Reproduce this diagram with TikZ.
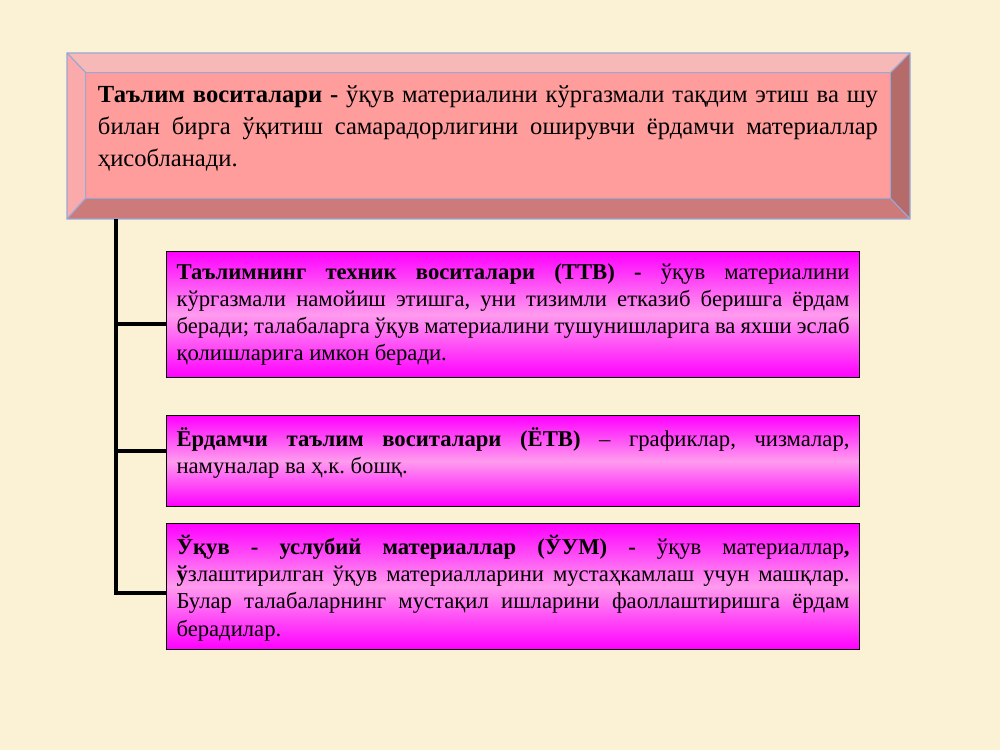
\documentclass[tikz,border=0pt]{standalone}
\usepackage{fontspec}
\setmainfont{Liberation Serif}
\usetikzlibrary{calc}

\definecolor{paper}{RGB}{251,242,213}
\definecolor{face}{RGB}{255,156,156}
\definecolor{bevtop}{RGB}{247,184,184}
\definecolor{bevleft}{RGB}{250,170,170}
\definecolor{bevright}{RGB}{182,107,107}
\definecolor{bevbottom}{RGB}{205,122,122}
\definecolor{rim}{RGB}{154,168,212}
\definecolor{magedge}{RGB}{255,0,255}
\definecolor{magmid}{RGB}{255,155,238}

\frenchspacing
\newcommand\deftext[1]{\parbox[c][19.8mm][t]{156mm}{\fontsize{14}{18.2}\selectfont #1}}
\newcommand\kindtext[2]{\parbox[c][#1][t]{134.6mm}{\fontsize{12.9}{15.4}\selectfont #2}}

\begin{document}
\begin{tikzpicture}[x=0.2mm,y=0.2mm,
    kind/.style={draw=black,line width=0.6pt,top color=magedge,bottom color=magedge,
      middle color=magmid,minimum width=138.6mm,inner xsep=2mm,inner ysep=2.4mm,
      anchor=north west},
    bevel/.style={draw=rim,line width=0.6pt,line join=round},
    trunk/.style={line width=2.3pt}]
  \fill[paper] (0,0) rectangle (1000,750);

  % definition box
  \node (def) at (488,614.5) [fill=face,minimum width=160.8mm,minimum height=25mm,
    inner xsep=0pt,inner ysep=2.6mm]
    {\deftext{\textbf{Таълим воситалари -} ўқув материалини кўргазмали тақдим этиш ва шу\linebreak
     билан бирга ўқитиш самарадорлигини оширувчи ёрдамчи материаллар\linebreak
     ҳисобланади.}};
  \coordinate (onw) at (67,697);
  \coordinate (one) at (910,697);
  \coordinate (ose) at (910,531);
  \coordinate (osw) at (67,531);
  \filldraw[bevel,fill=bevtop] (onw) -- (one) -- (def.north east) -- (def.north west) -- cycle;
  \filldraw[bevel,fill=bevleft] (onw) -- (def.north west) -- (def.south west) -- (osw) -- cycle;
  \filldraw[bevel,fill=bevright] (one) -- (ose) -- (def.south east) -- (def.north east) -- cycle;
  \filldraw[bevel,fill=bevbottom] (osw) -- (ose) -- (def.south east) -- (def.south west) -- cycle;

  % three kinds
  \node (ttv) at (166,499) [kind]
    {\kindtext{20.4mm}{\textbf{Таълимнинг техник воситалари (ТТВ) -} ўқув материалини\linebreak
     кўргазмали намойиш этишга, уни тизимли етказиб беришга ёрдам\linebreak
     беради; талабаларга ўқув материалини тушунишларига ва яхши эслаб\linebreak
     қолишларига имкон беради.}};
  \node (etv) at (166,335) [kind]
    {\kindtext{13.4mm}{\textbf{Ёрдамчи таълим воситалари (ЁТВ)} – графиклар, чизмалар,\linebreak
     намуналар ва ҳ.к. бошқ.}};
  \node (uum) at (166,227) [kind]
    {\kindtext{20.4mm}{\textbf{Ўқув - услубий материаллар (ЎУМ) -} ўқув материаллар\textbf{,}\linebreak
     \textbf{ў}злаштирилган ўқув материалларини мустаҳкамлаш учун машқлар.\linebreak
     Булар талабаларнинг мустақил ишларини фаоллаштиришга ёрдам\linebreak
     берадилар.}};

  \coordinate (stem) at (116,531);
  \coordinate (j1) at (116,426);
  \coordinate (j2) at (116,299);
  \coordinate (j3) at (116,157);
  \draw[trunk] (stem) |- (uum.west |- j3);
  \draw[trunk] (j1) -- (ttv.west |- j1);
  \draw[trunk] (j2) -- (etv.west |- j2);
\end{tikzpicture}
\end{document}
